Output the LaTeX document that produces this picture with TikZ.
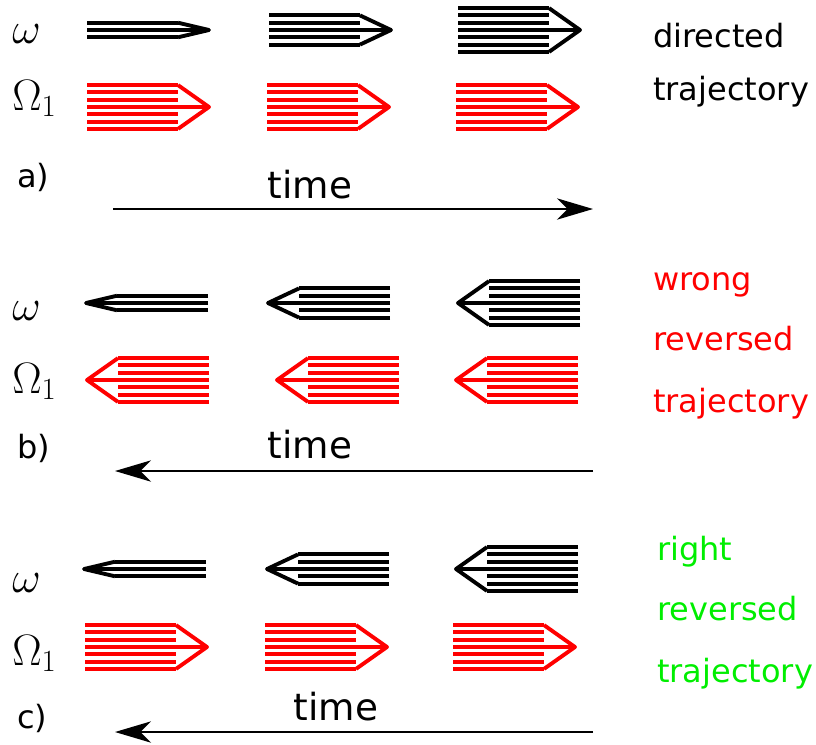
\documentclass[tikz,border=0pt]{standalone}
\usepackage{fix-cm}
\usepackage{fontspec}
\setmainfont{DejaVu Sans}
\usetikzlibrary{arrows.meta}
\definecolor{trajgreen}{RGB}{0,238,0}

% bundle of strands with a chevron tip: anchor x, axis y, strands, direction (1/-1), colour
\newcommand{\bundle}[5]{%
  \begin{scope}[shift={(#1,#2)},xscale=#4,draw=#5,line width=2.9pt,line join=round]
    \pgfmathsetmacro\hh{(#3-1)/2*7.3}
    \foreach \k in {1,...,#3}
      \draw (0,{-\hh+(\k-1)*7.3}) -- (91,{-\hh+(\k-1)*7.3});
    \draw (91,-\hh) -- (122,0) -- (91,\hh);
    \draw (40,0) -- (122,0);
  \end{scope}}

\begin{document}
\begin{tikzpicture}[x=0.75pt,y=-0.75pt]
    \tikzstyle{sym}=[inner sep=0,anchor=base west,font=\fontsize{33}{38}\selectfont]
    \tikzstyle{tag}=[inner sep=0,anchor=base west,font=\fontsize{24}{28}\selectfont]
    \tikzstyle{clock}=[inner sep=0,anchor=base,font=\fontsize{28}{32}\selectfont]
    \tikzstyle{timeline}=[line width=1.5pt,-{Stealth[length=27pt,width=16pt,inset=8pt]}]
    \useasboundingbox (0,0) rectangle (816,744);

    % a)
    \node[sym] (omegaA) at (12,43) {$\omega$};
    \node[sym] (OmegaA) at (12,110) {$\Omega_1$};
    \node[tag] (labA) at (17,187) {a)};
    \bundle{87}{30}{3}{1}{black}
    \bundle{269}{30}{5}{1}{black}
    \bundle{458}{30}{7}{1}{black}
    \bundle{87}{107}{7}{1}{red}
    \bundle{267}{107}{7}{1}{red}
    \bundle{456}{107}{7}{1}{red}
    \node[tag] (dirA) at (653,47) {directed};
    \node[tag] (trajA) at (653,100) {trajectory};
    \node[clock] (timeA) at (310,198) {time};
    \coordinate (startA) at (113,209);
    \coordinate (endA) at (593,209);
    \draw[timeline] (startA) -- (endA);

    % b)
    \node[sym] (omegaB) at (12,320) {$\omega$};
    \node[sym] (OmegaB) at (12,393) {$\Omega_1$};
    \node[tag] (labB) at (17,458) {b)};
    \bundle{208}{303}{3}{-1}{black}
    \bundle{390}{303}{5}{-1}{black}
    \bundle{580}{303}{7}{-1}{black}
    \bundle{209}{380}{7}{-1}{red}
    \bundle{399}{380}{7}{-1}{red}
    \bundle{578}{380}{7}{-1}{red}
    \node[tag,red] (wrongB) at (653,290) {wrong};
    \node[tag,red] (revB) at (653,350) {reversed};
    \node[tag,red] (trajB) at (653,412) {trajectory};
    \node[clock] (timeB) at (310,458) {time};
    \coordinate (startB) at (593,471);
    \coordinate (endB) at (115,471);
    \draw[timeline] (startB) -- (endB);

    % c)
    \node[sym] (omegaC) at (12,592) {$\omega$};
    \node[sym] (OmegaC) at (12,665) {$\Omega_1$};
    \node[tag] (labC) at (17,728) {c)};
    \bundle{206}{569}{3}{-1}{black}
    \bundle{389}{569}{5}{-1}{black}
    \bundle{578}{569}{7}{-1}{black}
    \bundle{85}{647}{7}{1}{red}
    \bundle{265}{647}{7}{1}{red}
    \bundle{453}{647}{7}{1}{red}
    \node[tag,trajgreen] (rightC) at (657,560) {right};
    \node[tag,trajgreen] (revC) at (657,620) {reversed};
    \node[tag,trajgreen] (trajC) at (657,682) {trajectory};
    \node[clock] (timeC) at (336,720) {time};
    \coordinate (startC) at (593,732);
    \coordinate (endC) at (115,732);
    \draw[timeline] (startC) -- (endC);
\end{tikzpicture}
\end{document}
